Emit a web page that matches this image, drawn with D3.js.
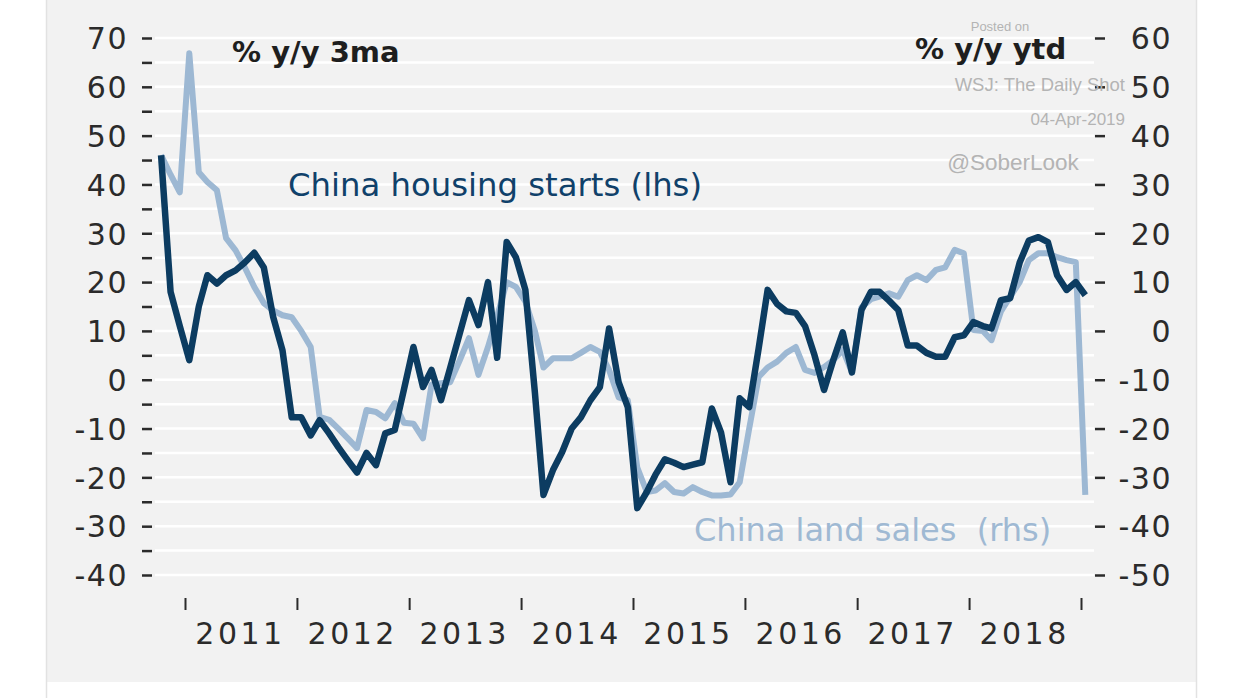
<!DOCTYPE html>
<html lang="en">
<head>
    <meta charset="UTF-8"/>
    <title>China housing starts vs land sales</title>
    <script src="https://d3js.org/d3.v7.min.js"></script>
    <style>
        body { margin: 0; background: #fff; }
        svg { display: block; }
        .tick-lbl { font-family: "DejaVu Sans", sans-serif; font-size: 30px; fill: #2b2b2b; letter-spacing: 1.5px; }
    </style>
</head>
<body>
    <script>
        var w = 1241;
        var h = 698;

        // monthly series, first point Oct 2010, last point Jan 2019
        var startMonth = new Date(2010, 9, 15);

        // China housing starts, % y/y 3ma (lhs)
        var housingStarts = [46, 18, 11,
            4, 15, 21.4, 19.7, 21.4, 22.4, 24, 26, 23, 13,
            6, -7.7, -7.7, -11.4, -8.3, -11, -13.8, -16.5, -19, -15,
            -17.5, -11, -10.3, -2, 6.7, -1.5, 2, -4.2, 2.5, 9.5,
            16.3, 11.2, 20, 4.5, 28.2, 25.1, 18.4, -2.6, -23.6, -18.5,
            -14.8, -10, -7.7, -4.2, -1.5, 10.5, -0.5, -5.6, -26.3, -23,
            -19.5, -16.3, -17, -17.9, -17.4, -16.9, -5.9, -10.8, -21, -3.8,
            -5.6, 6.5, 18.4, 15.5, 14, 13.7, 11, 5, -2.1, 4,
            9.7, 1.5, 14.3, 18, 18, 16.2, 14.3, 7, 7, 5.5,
            4.7, 4.7, 8.7, 9.1, 11.8, 11, 10.5, 16.3, 16.7, 24,
            28.5, 29.2, 28.2, 21.4, 18.4, 20, 17.3];

        // China land sales, % y/y ytd (rhs)
        var landSales = [36, 32, 28.4,
            56.9, 32.5, 30.5, 28.8, 19, 16.5, 13, 9, 5.7, 4.2,
            3.2, 2.8, 0, -3.3, -17.6, -18.2, -20, -22, -24, -16.2,
            -16.6, -17.9, -14.8, -18.8, -19, -22, -11, -10.7, -10.5, -6,
            -1.5, -9, -3.3, 3, 10, 9, 6, 0, -7.5, -5.6,
            -5.6, -5.6, -4.5, -3.3, -4.3, -8, -13.6, -14.2, -28, -33,
            -32.7, -31.2, -33, -33.3, -32, -33, -33.7, -33.7, -33.5, -31,
            -20, -9.4, -7.5, -6.3, -4.5, -3.3, -8, -8.6, -7.4, -6,
            -3.9, -8.5, 4.8, 6.5, 7, 7.7, 7, 10.4, 11.4, 10.4,
            12.5, 13, 16.6, 15.9, 0.2, 0, -1.9, 4, 7, 10,
            14.5, 15.9, 15.9, 15.1, 14.5, 14.1, -33.6];

        var yearLabels = ["2011", "2012", "2013", "2014", "2015", "2016", "2017", "2018"];
        var leftTicks = d3.range(-40, 71, 5);
        var rightTicks = d3.range(-50, 61, 10);

        var xScale = d3.scaleTime()
            .domain([new Date(2011, 0, 1), new Date(2019, 0, 1)])
            .range([185, 1081]);

        var yLeft = d3.scaleLinear().domain([-40, 70]).range([575, 38]);
        var yRight = d3.scaleLinear().domain([-50, 60]).range([575, 38]);

        var svg = d3.select("body")
            .append("svg")
            .attr("width", w)
            .attr("height", h);

        // panel
        svg.append("rect")
            .attr("x", 46).attr("y", 0)
            .attr("width", 1150).attr("height", 682)
            .attr("fill", "#f2f2f2");
        svg.append("line").attr("x1", 46.5).attr("x2", 46.5).attr("y1", 0).attr("y2", h)
            .attr("stroke", "#e2e2e2").attr("stroke-width", 1.5);
        svg.append("line").attr("x1", 1196.5).attr("x2", 1196.5).attr("y1", 0).attr("y2", h)
            .attr("stroke", "#e2e2e2").attr("stroke-width", 1.5);

        // white gridlines every 5 units on the lhs scale
        svg.append("g")
            .selectAll("line")
            .data(leftTicks)
            .enter()
            .append("line")
            .attr("x1", 155)
            .attr("x2", 1094)
            .attr("y1", function(d) { return yLeft(d); })
            .attr("y2", function(d) { return yLeft(d); })
            .attr("stroke", "#ffffff")
            .attr("stroke-width", 2.5);

        // left axis
        var leftAxis = svg.append("g")
            .attr("transform", "translate(152,0)")
            .call(d3.axisLeft(yLeft)
                .tickValues(leftTicks)
                .tickSize(10)
                .tickPadding(14)
                .tickFormat(function(d) { return d % 10 === 0 ? d : ""; }));
        leftAxis.select(".domain").remove();
        leftAxis.selectAll("line").attr("stroke", "#2b2b2b").attr("stroke-width", 2.5);
        leftAxis.selectAll("text").attr("class", "tick-lbl").attr("dy", "0.36em");

        // right axis
        var rightAxis = svg.append("g")
            .attr("transform", "translate(1095,0)")
            .call(d3.axisRight(yRight)
                .tickValues(rightTicks)
                .tickSize(10)
                .tickFormat(function(d) { return d; }));
        rightAxis.select(".domain").remove();
        rightAxis.selectAll("line").attr("stroke", "#2b2b2b").attr("stroke-width", 2.5);
        rightAxis.selectAll("text")
            .attr("class", "tick-lbl")
            .attr("text-anchor", "end")
            .attr("x", 77)
            .attr("dy", "0.36em");

        // x axis: ticks at year boundaries, labels mid-year
        var xAxis = svg.append("g")
            .attr("transform", "translate(0,598)")
            .call(d3.axisBottom(xScale)
                .ticks(d3.timeYear.every(1))
                .tickSize(12)
                .tickFormat(""));
        xAxis.select(".domain").remove();
        xAxis.selectAll("line").attr("stroke", "#2b2b2b").attr("stroke-width", 2);

        svg.append("g")
            .selectAll("text")
            .data(yearLabels)
            .enter()
            .append("text")
            .attr("class", "tick-lbl")
            .attr("x", function(d) { return xScale(new Date(+d, 6, 1)); })
            .attr("y", 644)
            .attr("text-anchor", "middle")
            .style("letter-spacing", "3.5px")
            .text(function(d) { return d; });

        // watermark
        var wm = svg.append("g")
            .attr("font-family", "'Liberation Sans', Arial, sans-serif")
            .attr("fill", "#b4b4b4");
        wm.append("text").attr("x", 1000).attr("y", 31).attr("text-anchor", "middle")
            .attr("font-size", 13).text("Posted on");
        wm.append("text").attr("x", 1125).attr("y", 91).attr("text-anchor", "end")
            .attr("font-size", 18.5).text("WSJ: The Daily Shot");
        wm.append("text").attr("x", 1125).attr("y", 125).attr("text-anchor", "end")
            .attr("font-size", 17).text("04-Apr-2019");
        wm.append("text").attr("x", 1013).attr("y", 170).attr("text-anchor", "middle")
            .attr("font-size", 22.5).text("@SoberLook");

        // lines
        var dates = housingStarts.map(function(d, i) { return d3.timeMonth.offset(startMonth, i); });

        var lineLeft = d3.line()
            .x(function(d, i) { return xScale(dates[i]); })
            .y(function(d) { return yLeft(d); });
        var lineRight = d3.line()
            .x(function(d, i) { return xScale(dates[i]); })
            .y(function(d) { return yRight(d); });

        svg.append("path")
            .datum(landSales)
            .attr("d", lineRight)
            .attr("fill", "none")
            .attr("stroke", "#9db8d3")
            .attr("stroke-width", 6)
            .attr("stroke-linejoin", "round");

        svg.append("path")
            .datum(housingStarts)
            .attr("d", lineLeft)
            .attr("fill", "none")
            .attr("stroke", "#0c3c61")
            .attr("stroke-width", 6.5)
            .attr("stroke-linejoin", "round");

        // titles and series labels
        svg.append("text")
            .attr("x", 232).attr("y", 62)
            .attr("font-family", "'DejaVu Sans', sans-serif")
            .attr("font-weight", "bold")
            .attr("font-size", 29)
            .attr("fill", "#1e1e1e")
            .text("% y/y 3ma");

        svg.append("text")
            .attr("x", 915).attr("y", 59)
            .attr("font-family", "'DejaVu Sans', sans-serif")
            .attr("font-weight", "bold")
            .attr("font-size", 29)
            .attr("fill", "#1e1e1e")
            .text("% y/y ytd");

        svg.append("text")
            .attr("x", 288).attr("y", 196)
            .attr("font-family", "'DejaVu Sans', sans-serif")
            .attr("font-size", 32.3)
            .attr("fill", "#10416a")
            .text("China housing starts (lhs)");

        svg.append("text")
            .attr("x", 694).attr("y", 541)
            .attr("font-family", "'DejaVu Sans', sans-serif")
            .attr("font-size", 32)
            .attr("fill", "#9fb9d3")
            .attr("xml:space", "preserve")
            .style("white-space", "pre")
            .text("China land sales  (rhs)");
    </script>
</body>
</html>
